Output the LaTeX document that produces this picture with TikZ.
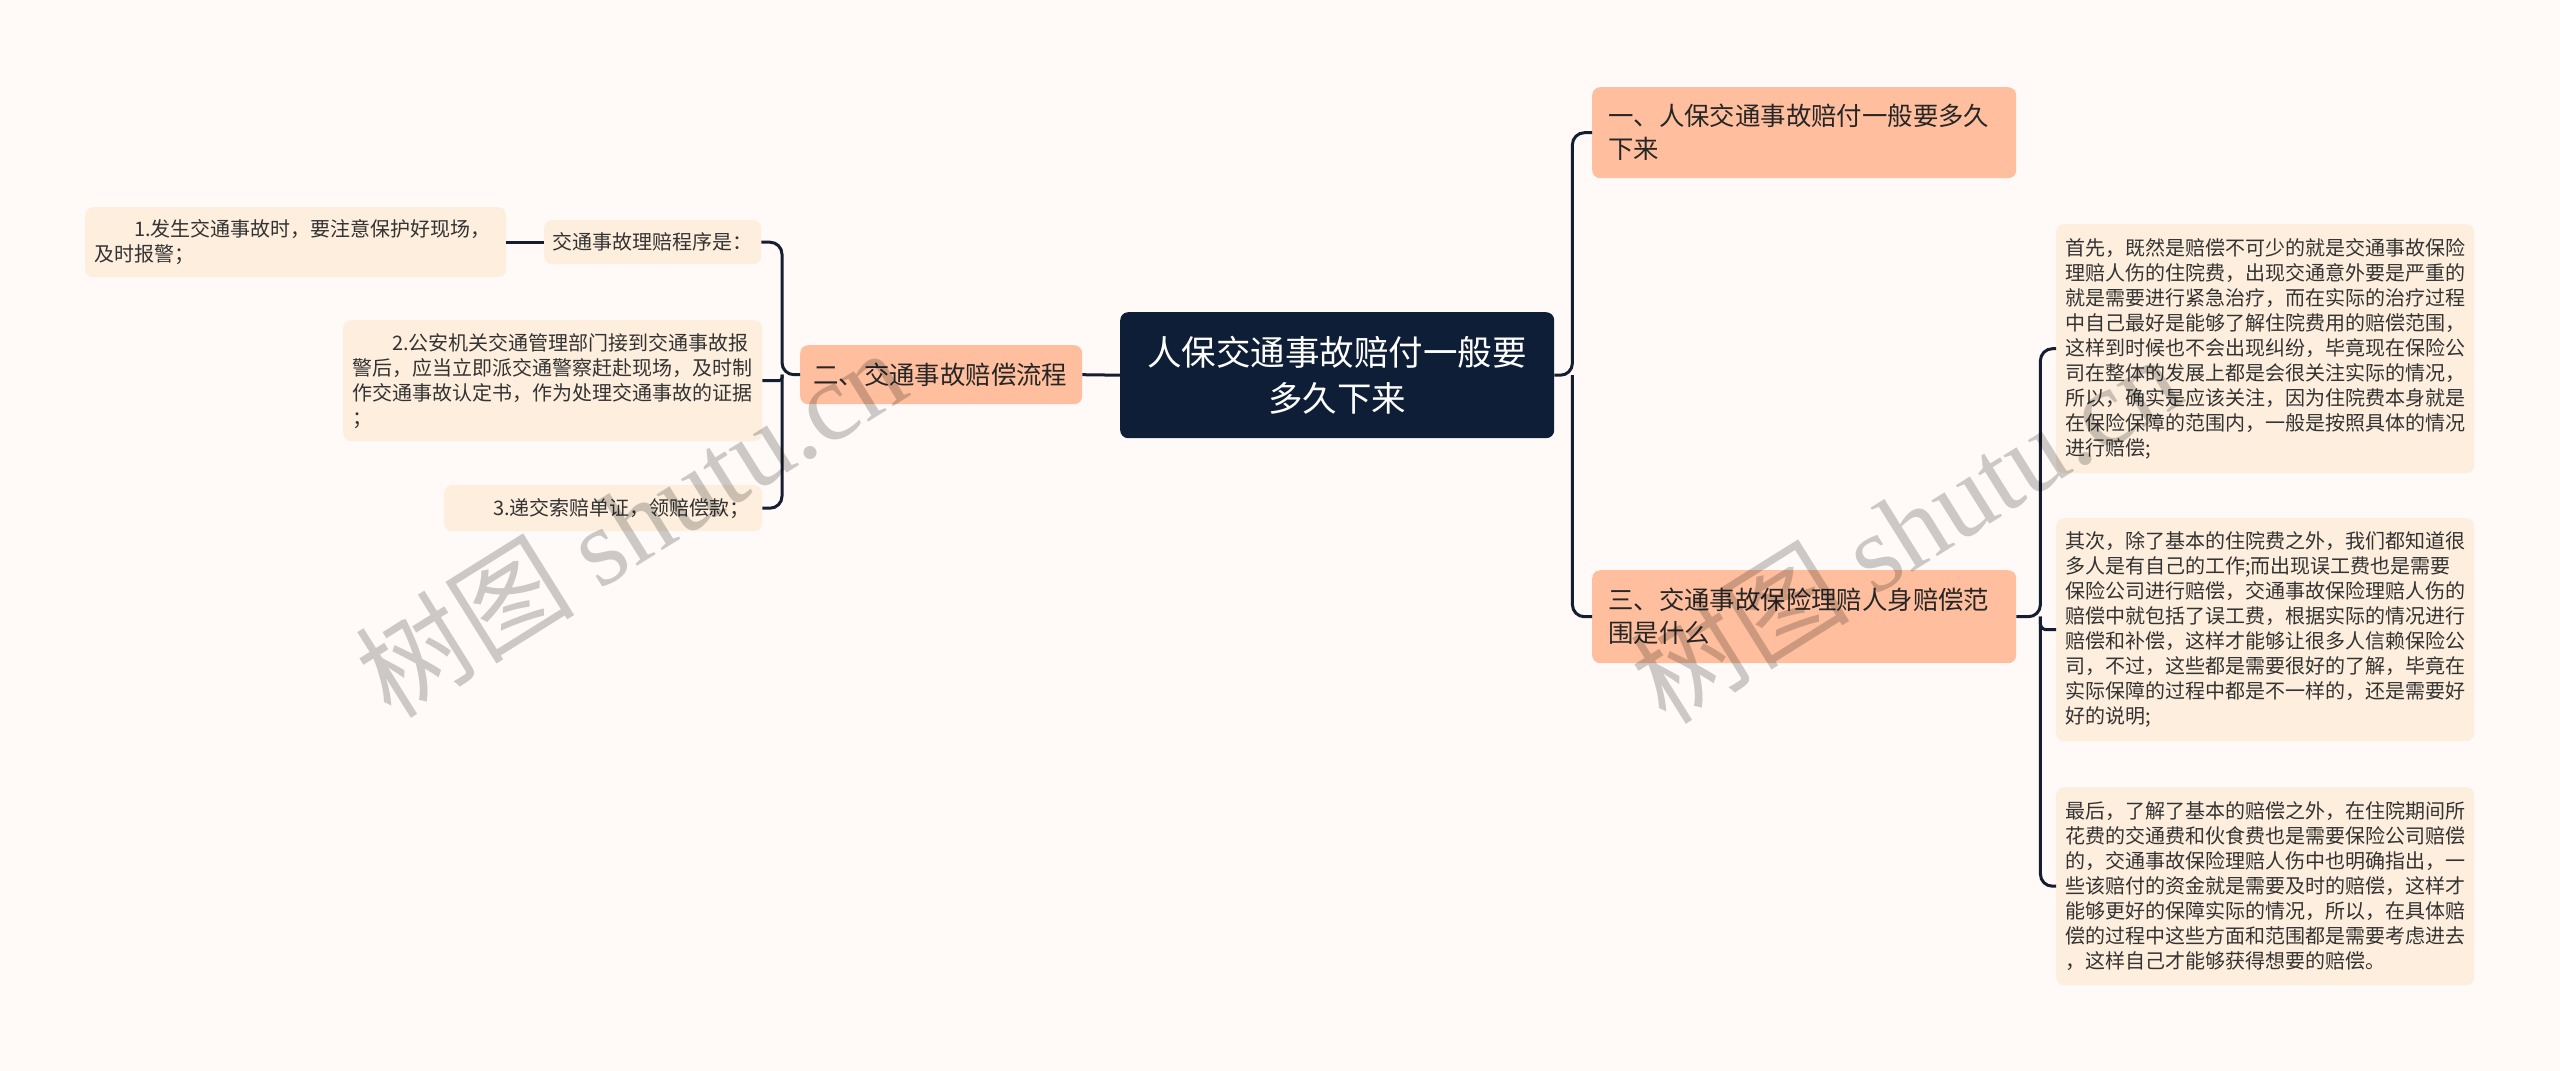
\documentclass[tikz,border=0pt]{standalone}
\usepackage{fontspec}
\setmainfont{Noto Sans CJK SC}
\newfontfamily\wmlatin{Liberation Serif}
\usetikzlibrary{calc}
\definecolor{bg}{HTML}{FFFAF8}
\definecolor{rootc}{HTML}{0E1E36}
\definecolor{salmon}{HTML}{FFBF9E}
\definecolor{cream}{HTML}{FDEEDD}
\definecolor{linec}{HTML}{141E30}
\definecolor{txt}{HTML}{333333}
\begin{document}
\begin{tikzpicture}[x=1pt,y=-1pt,
  conn/.style={draw=linec, line width=3pt, rounded corners=12pt},
  box/.style={rounded corners=8pt, inner ysep=0pt, anchor=north west},
  leaf/.style={box, fill=cream, text=txt, font=\fontsize{20pt}{25pt}\selectfont, align=left, inner xsep=9pt},
  topic/.style={box, fill=salmon, text=black!85, font=\fontsize{25.4pt}{33pt}\selectfont, align=left, inner xsep=16pt},
  wm/.style={text=black, text opacity=0.2, font=\fontsize{110pt}{110pt}\selectfont, rotate=32}
  ]
\fill[bg] (0,0) rectangle (2560,1071);
\useasboundingbox (0,0) rectangle (2560,1071);

% root
\node[box, fill=rootc, text=white, font=\fontsize{34.5pt}{46pt}\selectfont, align=center,
      text width=400pt, inner xsep=17pt, minimum height=126pt] (root) at (1120,312)
  {人保交通事故赔付一般要\\多久下来};

% right topics
\node[topic, text width=392pt, minimum height=91pt] (n1) at (1592,87)
  {一、人保交通事故赔付一般要多久\\下来};
\node[topic, text width=392pt, minimum height=93pt] (n3) at (1592,570)
  {三、交通事故保险理赔人身赔偿范\\围是什么};

% left topic
\node[topic, text width=256pt, inner xsep=13pt, minimum height=59pt] (n2) at (800,345)
  {二、交通事故赔偿流程};

% left sub nodes
\node[leaf, text width=200pt, inner xsep=8.5pt, minimum height=44pt] (p) at (544,220)
  {交通事故理赔程序是：};
\node[leaf, text width=403pt, minimum height=70pt] (l1) at (85,207)
  {\hspace*{40pt}1.发生交通事故时，要注意保护好现场，\\及时报警；};
\node[leaf, text width=401pt, minimum height=121pt] (l2) at (343,320)
  {\hspace*{40pt}2.公安机关交通管理部门接到交通事故报\\警后，应当立即派交通警察赶赴现场，及时制\\作交通事故认定书，作为处理交通事故的证据\\；};
\node[leaf, text width=300pt, minimum height=46pt] (l3) at (444,485)
  {\hspace*{40pt}3.递交索赔单证，领赔偿款；};

% right leaves
\node[leaf, text width=400pt, minimum height=249pt] (rA) at (2056,224)
  {首先，既然是赔偿不可少的就是交通事故保险\\理赔人伤的住院费，出现交通意外要是严重的\\就是需要进行紧急治疗，而在实际的治疗过程\\中自己最好是能够了解住院费用的赔偿范围，\\这样到时候也不会出现纠纷，毕竟现在保险公\\司在整体的发展上都是会很关注实际的情况，\\所以，确实是应该关注，因为住院费本身就是\\在保险保障的范围内，一般是按照具体的情况\\进行赔偿;};
\node[leaf, text width=400pt, minimum height=223pt] (rB) at (2056,518)
  {其次，除了基本的住院费之外，我们都知道很\\多人是有自己的工作;而出现误工费也是需要\\保险公司进行赔偿，交通事故保险理赔人伤的\\赔偿中就包括了误工费，根据实际的情况进行\\赔偿和补偿，这样才能够让很多人信赖保险公\\司，不过，这些都是需要很好的了解，毕竟在\\实际保障的过程中都是不一样的，还是需要好\\好的说明;};
\node[leaf, text width=400pt, minimum height=198pt] (rC) at (2056,787)
  {最后，了解了基本的赔偿之外，在住院期间所\\花费的交通费和伙食费也是需要保险公司赔偿\\的，交通事故保险理赔人伤中也明确指出，一\\些该赔付的资金就是需要及时的赔偿，这样才\\能够更好的保障实际的情况，所以，在具体赔\\偿的过程中这些方面和范围都是需要考虑进去\\，这样自己才能够获得想要的赔偿。};

% bus points
\coordinate (bR) at ($(root.east)+(18,0)$);
\coordinate (bL) at ($(n2.west)+(-18,0)$);
\coordinate (bR2) at ($(n3.east)+(24,0)$);

% connectors
\draw[conn] (root.east) -- (bR) |- (n1.west);
\draw[conn] (bR) |- (n3.west);
\draw[conn] (root.west) -- (n2.east);
\draw[conn] (n2.west) -- (bL) |- (p.east);
\draw[conn, rounded corners=3pt] (bL) |- (l2.east);
\draw[conn] (bL) |- (l3.east);
\draw[conn] (p.west) -- (l1.east);
\draw[conn] (n3.east) -- (bR2) |- (rA.west);
\draw[conn, rounded corners=6pt] (bR2) |- (rB.west);
\draw[conn] (bR2) |- (rC.west);

% watermarks
\node[wm] (wm1) at (630,522) {树图 {\wmlatin shutu.cn}};
\node[wm] (wm2) at (1905,528) {树图 {\wmlatin shutu.cn}};
\end{tikzpicture}
\end{document}
